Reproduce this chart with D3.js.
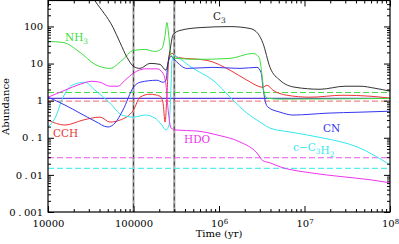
<!DOCTYPE html>
<html>
<head>
<meta charset="utf-8">
<script src="https://cdn.jsdelivr.net/npm/d3@7"></script>
<style>
body { margin: 0; background: #fff; }
text { font-family: "DejaVu Serif", serif; }
</style>
</head>
<body>
<div id="chart-area"></div>
<script>

// time (yr), abundance
var c3 = [[3.0e4,900],[3.55e4,490],[5.76e4,94],[6.95e4,37],[8.4e4,14.7],[1e5,8.4],[1.19e5,7.4],[1.56e5,10.1],[2.04e5,9.5],[2.4e5,6.6],[2.67e5,22.6],[2.9e5,60],[3.5e5,78],[6e5,93],[1.35e6,99],[2.31e6,88],[2.86e6,64],[3.27e6,35],[3.95e6,7.9],[5.17e6,3.55],[7.74e6,2.3],[1.52e7,2.03],[2.98e7,2.45],[4.46e7,2.45],[6.68e7,2.16],[1e8,1.8]];
var nh3 = [[1e4,39.4],[1.5e4,37],[2.37e4,20],[3.55e4,9.5],[5.31e4,7.4],[7.33e4,12.2],[1e5,22.6],[1.36e5,24],[1.78e5,21.2],[2.15e5,25.6],[2.34e5,57],[2.46e5,127],[2.6e5,50],[2.75e5,16.6],[3.06e5,13.8],[6e5,13],[1.35e6,13.8],[2.5e6,18.8],[2.94e6,14.7],[3.19e6,4.8],[3.36e6,1.69],[3.64e6,1.17],[5.17e6,1.10],[1e8,1.15]];
var hdo = [[1e4,1.24],[1.58e4,1.91],[2.37e4,2.77],[3.27e4,3.33],[4.06e4,3.13],[5.31e4,2.45],[6.59e4,2.45],[7.96e4,3.55],[1e5,5.5],[1.36e5,7.2],[1.88e5,7.2],[2.21e5,5.5],[2.4e5,2.6],[2.53e5,0.63],[2.75e5,0.183],[3.14e5,0.162],[5.53e5,0.152],[9.5e5,0.119],[1.76e6,0.077],[2.78e6,0.039],[3.27e6,0.024],[3.95e6,0.0211],[5.17e6,0.0165],[1.16e7,0.0114],[2.82e7,0.0089],[5.83e7,0.0074],[1e8,0.0061]];
var cc3h2 = [[1e4,0.195],[1.21e4,0.34],[1.5e4,1.24],[1.91e4,2.6],[2.7e4,3.13],[3.55e4,1.91],[5.31e4,0.86],[7.33e4,0.41],[1e5,0.36],[1.36e5,0.41],[1.78e5,0.34],[2.15e5,0.22],[2.4e5,0.162],[2.6e5,0.22],[2.75e5,2.6],[2.82e5,12.2],[2.98e5,16.6],[3.31e5,14.7],[4.58e5,8.4],[6e5,5.8],[8.51e5,3.55],[1.35e6,1.24],[2.13e6,0.46],[3.02e6,0.265],[3.95e6,0.183],[6.76e6,0.143],[1.64e7,0.099],[4.11e7,0.057],[1e8,0.0187]];
var cn = [[1e4,1.24],[1.58e4,0.76],[2.37e4,0.46],[3.55e4,0.28],[5.03e4,0.195],[6.08e4,0.25],[7.53e4,0.56],[1e5,2.3],[1.19e5,3.13],[1.88e5,3.55],[2.21e5,3.13],[2.4e5,3.55],[2.53e5,10.1],[2.75e5,15.6],[3.06e5,12.2],[4.23e5,7.4],[8.51e5,7.9],[1.76e6,7.4],[2.78e6,7.9],[3.1e6,5.8],[3.27e6,2.3],[3.45e6,1.03],[3.74e6,0.67],[5.17e6,0.49],[7.33e6,0.41],[1.83e7,0.46],[4.46e7,0.49],[1e8,0.52]];
var cch = [[1e4,0.30],[1.58e4,0.22],[2.57e4,0.30],[4.06e4,0.36],[5.31e4,0.265],[6.95e4,0.30],[1e5,0.56],[1.19e5,1.24],[1.56e5,1.49],[2.04e5,1.32],[2.21e5,0.91],[2.34e5,0.265],[2.46e5,1.40],[2.6e5,14.7],[2.82e5,18.8],[3.23e5,14.7],[7.24e5,12.2],[1.35e6,6.6],[2.13e6,3.55],[3.27e6,2.3],[3.64e6,2.6],[4.28e6,1.91],[6.24e6,1.40],[1.16e7,1.24],[2.82e7,1.40],[5.83e7,1.32],[1e8,1.17]];

// observed levels (horizontal reference lines)
var obsValues = [1.66, 1.15, 0.97, 0.029, 0.015];
var obsColors = ["#44dd44", "#5a3cd6", "#f08888", "#ee55ee", "#55eeee"];
var obsDash = ["6,3", null, "6,3", "6,3", "6,3"];

var markTimes = [1e5, 3e5];

var xMajor = [1e4, 1e5, 1e6, 1e7, 1e8];
var yMajor = [0.001, 0.01, 0.1, 1, 10, 100];

var margin = {left: 48, right: 9, top: 0.5, bottom: 32};
var width = 399 - margin.left - margin.right;
var height = 244 - margin.top - margin.bottom;

var svg = d3.select("#chart-area").append("svg")
  .attr("width", 399).attr("height", 244);
var g = svg.append("g")
  .attr("transform", "translate(" + margin.left + "," + margin.top + ")");

var x = d3.scaleLog().domain([1e4, 1e8]).range([0, width]);
var y = d3.scaleLog().domain([0.001, 500]).range([height, 0]);

function minors(lo, hi) {
  var out = [];
  for (var e = lo; e < hi; e++)
    for (var k = 2; k <= 9; k++) out.push(k * Math.pow(10, e));
  return out;
}
var xMinor = minors(4, 8);
var yMinor = minors(-3, 3).filter(function(v) { return v < 500; });

svg.append("defs").append("clipPath").attr("id", "clip")
  .append("rect").attr("width", width).attr("height", height);

var plot = g.append("g").attr("clip-path", "url(#clip)");

// vertical markers
markTimes.forEach(function(t) {
  plot.append("line").attr("x1", x(t)).attr("x2", x(t)).attr("y1", 0).attr("y2", height)
    .attr("stroke", "#aaa").attr("stroke-width", 2.2);
  plot.append("line").attr("x1", x(t)).attr("x2", x(t)).attr("y1", 0).attr("y2", height)
    .attr("stroke", "#444").attr("stroke-width", 1).attr("stroke-dasharray", "4,3");
});

// observed levels
obsValues.forEach(function(v, i) {
  plot.append("line").attr("x1", 0).attr("x2", width).attr("y1", y(v)).attr("y2", y(v))
    .attr("stroke", obsColors[i]).attr("stroke-width", 1.1)
    .attr("stroke-dasharray", obsDash[i]);
});

var line = d3.line()
  .x(function(d) { return x(d[0]); })
  .y(function(d) { return y(d[1]); })
  .curve(d3.curveMonotoneX);

var series = [
  {data: cch, color: "#ee3333"},
  {data: cc3h2, color: "#33e8ee"},
  {data: hdo, color: "#ee33ee"},
  {data: cn, color: "#3535ee"},
  {data: nh3, color: "#3ddd3d"},
  {data: c3, color: "#333333"}
];
series.forEach(function(s) {
  plot.append("path").datum(s.data).attr("d", line)
    .attr("fill", "none").attr("stroke", s.color).attr("stroke-width", 1);
});

// axes: inward ticks on all four sides
function styleAxis(sel) {
  sel.select(".domain").remove();
  sel.selectAll("line").attr("stroke", "#000");
}
var xB = g.append("g").attr("transform", "translate(0," + height + ")")
  .call(d3.axisBottom(x).tickValues(xMajor).tickSizeInner(-6).tickSizeOuter(0).tickPadding(8)
    .tickFormat(function(d) { return d; }));
xB.call(styleAxis);
xB.selectAll("text").attr("font-size", "10px").attr("fill", "#000").each(function(d) {
  var t = d3.select(this);
  var e = Math.round(Math.log10(d));
  if (e >= 6) {
    t.text("10");
    t.append("tspan").attr("dy", "-0.45em").attr("font-size", "7px").text(e);
  } else {
    t.text(d3.format("d")(d));
  }
});
g.append("g").attr("transform", "translate(0," + height + ")")
  .call(d3.axisBottom(x).tickValues(xMinor).tickSizeInner(-3).tickSizeOuter(0).tickFormat(""))
  .call(styleAxis);
g.append("g").call(d3.axisTop(x).tickValues(xMajor).tickSizeInner(-6).tickSizeOuter(0).tickFormat(""))
  .call(styleAxis);
g.append("g").call(d3.axisTop(x).tickValues(xMinor).tickSizeInner(-3).tickSizeOuter(0).tickFormat(""))
  .call(styleAxis);

var yL = g.append("g")
  .call(d3.axisLeft(y).tickValues(yMajor).tickSizeInner(-6).tickSizeOuter(0).tickPadding(5)
    .tickFormat(function(d) { return d; }));
yL.call(styleAxis);
yL.selectAll("text").attr("font-size", "10px").attr("fill", "#000").each(function(d) {
  var s = String(d);
  var t = d3.select(this).text("");
  var parts = s.split(".");
  t.append("tspan").text(parts[0]);
  if (parts.length > 1) {
    t.append("tspan").attr("dx", "2.5").text(".");
    t.append("tspan").attr("dx", "2.5").text(parts[1]);
  }
});
g.append("g").call(d3.axisLeft(y).tickValues(yMinor).tickSizeInner(-3).tickSizeOuter(0).tickFormat(""))
  .call(styleAxis);
g.append("g").attr("transform", "translate(" + width + ",0)")
  .call(d3.axisRight(y).tickValues(yMajor).tickSizeInner(-6).tickSizeOuter(0).tickFormat(""))
  .call(styleAxis);
g.append("g").attr("transform", "translate(" + width + ",0)")
  .call(d3.axisRight(y).tickValues(yMinor).tickSizeInner(-3).tickSizeOuter(0).tickFormat(""))
  .call(styleAxis);

g.append("rect").attr("width", width).attr("height", height)
  .attr("fill", "none").attr("stroke", "#000").attr("stroke-width", 1.2);

// axis titles
g.append("text").attr("x", x(1e6)).attr("y", height + 25)
  .attr("font-size", "10px").attr("text-anchor", "middle").text("Time (yr)");
g.append("text").attr("transform", "rotate(-90)")
  .attr("x", -106).attr("y", -39)
  .attr("font-size", "10px").attr("text-anchor", "middle").text("Abundance");

// species labels
function label(px, py, color, parts) {
  var t = g.append("text").attr("x", px).attr("y", py).attr("fill", color).attr("font-size", "10.5px");
  parts.forEach(function(p) {
    if (p.sub) {
      t.append("tspan").attr("dy", "3").attr("font-size", "7.5px").text(p.s);
      t.append("tspan").attr("dy", "-3").text("");
    } else {
      t.append("tspan").text(p.s);
    }
  });
}
label(213 - 48, 19.5, "#222", [{s: "C"}, {s: "3", sub: true}]);
label(65 - 48, 40.5, "#3ddd3d", [{s: "NH"}, {s: "3", sub: true}]);
label(53 - 48, 136, "#ee3333", [{s: "CCH"}]);
label(184 - 48, 142, "#ee33ee", [{s: "HDO"}]);
label(323 - 48, 131, "#3535ee", [{s: "CN"}]);
label(293 - 48, 150, "#33e8ee", [{s: "c\u2212C"}, {s: "3", sub: true}, {s: "H"}, {s: "2", sub: true}]);

</script>
</body>
</html>
